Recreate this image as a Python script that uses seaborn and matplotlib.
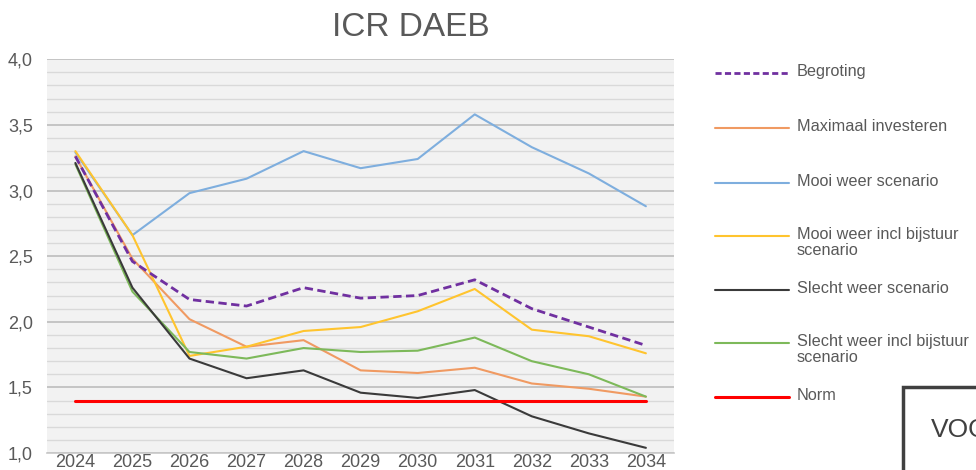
import numpy as np
import pandas as pd
import matplotlib
matplotlib.use("Agg")
import matplotlib.pyplot as plt
from matplotlib.lines import Line2D
from matplotlib.patches import Rectangle
import seaborn as sns

# Data
jaren = [2024, 2025, 2026, 2027, 2028, 2029, 2030, 2031, 2032, 2033, 2034]
begroting = [3.26, 2.46, 2.17, 2.12, 2.26, 2.18, 2.20, 2.32, 2.10, 1.96, 1.82]
maximaal_investeren = [3.26, 2.48, 2.02, 1.81, 1.86, 1.63, 1.61, 1.65, 1.53, 1.49, 1.43]
mooi_weer = [3.29, 2.66, 2.98, 3.09, 3.30, 3.17, 3.24, 3.58, 3.33, 3.13, 2.88]
mooi_weer_bijstuur = [3.30, 2.66, 1.74, 1.81, 1.93, 1.96, 2.08, 2.25, 1.94, 1.89, 1.76]
slecht_weer = [3.21, 2.26, 1.72, 1.57, 1.63, 1.46, 1.42, 1.48, 1.28, 1.15, 1.04]
slecht_weer_bijstuur = [3.20, 2.23, 1.77, 1.72, 1.80, 1.77, 1.78, 1.88, 1.70, 1.60, 1.43]
norm = [1.40] * len(jaren)

series = [
    ("Begroting", begroting, "#7030A0", "--", 2.0),
    ("Maximaal investeren", maximaal_investeren, "#F09A62", "-", 1.5),
    ("Mooi weer scenario", mooi_weer, "#7EAEDE", "-", 1.5),
    ("Mooi weer incl bijstuur\nscenario", mooi_weer_bijstuur, "#FFC42E", "-", 1.5),
    ("Slecht weer scenario", slecht_weer, "#3A3A3A", "-", 1.5),
    ("Slecht weer incl bijstuur\nscenario", slecht_weer_bijstuur, "#7DB95A", "-", 1.5),
    ("Norm", norm, "#FF0000", "-", 2.2),
]
# tekenvolgorde (achter naar voor)
volgorde = [1, 2, 3, 5, 4, 0, 6]

sns.set_style("white")
plt.rcParams['font.family'] = ['Liberation Sans', 'DejaVu Sans']
grijs = "#595959"

fig = plt.figure(figsize=(9.76, 4.70), dpi=100)
ax = fig.add_axes([0.048, 0.036, 0.643, 0.838])
ax.set_facecolor("#F2F2F2")

for i in volgorde:
    naam, waarden, kleur, stijl, lw = series[i]
    lijn = sns.lineplot(x=jaren, y=waarden, ax=ax, color=kleur, linewidth=lw)
    if stijl == "--":
        lijn.get_lines()[-1].set_dashes((3, 1.6))

ax.set_xlim(2023.5, 2034.5)
ax.set_ylim(1.0, 4.0)
ax.set_xticks(jaren)
ax.set_xticklabels([str(j) for j in jaren])
ax.set_yticks(np.arange(1.0, 4.01, 0.5))
ax.set_yticklabels([f"{v:.1f}".replace(".", ",") for v in np.arange(1.0, 4.01, 0.5)])
ax.set_yticks(np.arange(1.0, 4.01, 0.1), minor=True)
ax.grid(which="major", axis="y", color="#C4C4C4", linewidth=1.4)
ax.grid(which="minor", axis="y", color="#D9D9D9", linewidth=1.0)
ax.set_axisbelow(True)
ax.tick_params(axis="both", which="both", length=0, labelsize=13, labelcolor=grijs)
ax.tick_params(axis="x", pad=1)
ax.tick_params(axis="y", pad=10)
for s in ["top", "right", "left"]:
    ax.spines[s].set_visible(False)
ax.spines["bottom"].set_color("#C8C8C8")
ax.spines["bottom"].set_linewidth(1.2)
ax.set_xlabel("")
ax.set_ylabel("")

fig.text(411 / 976, 1 - 28 / 470, "ICR DAEB", ha="center", va="center", fontsize=24, color=grijs)

# legenda
leg_y = [73, 128, 183, 236, 290, 343, 397]
for (naam, waarden, kleur, stijl, lw), py in zip(series, leg_y):
    yf = 1 - py / 470
    l = Line2D([715 / 976, 789 / 976], [yf, yf], color=kleur, linewidth=lw if lw < 2.1 else 2.2,
               transform=fig.transFigure)
    if stijl == "--":
        l.set_dashes((2.2, 1.2))
    fig.add_artist(l)
    fig.text(797 / 976, yf + 0.019, naam, ha="left", va="top", fontsize=11.7, color=grijs,
             linespacing=1.1)

# kader rechtsonder
fig.add_artist(Rectangle((903 / 976, -0.05), 0.2, 1 - 387 / 470 + 0.05, transform=fig.transFigure,
                         facecolor="white", edgecolor="#404040", linewidth=2.5))
fig.text(931 / 976, 1 - 430 / 470, "VOORLOPIG", ha="left", va="center", fontsize=19, color="#404040")

fig.savefig("out.png", dpi=100)
